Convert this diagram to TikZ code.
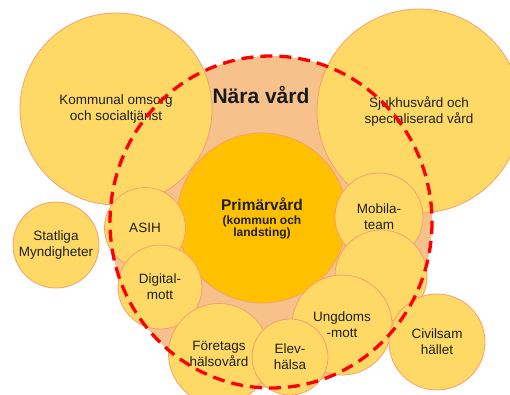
\documentclass[tikz,border=0pt]{standalone}
\usepackage{fontspec}
\setmainfont{Liberation Sans}

\definecolor{gulfyll}{HTML}{FFD966}
\definecolor{gulkant}{HTML}{F4A06E}
\definecolor{naravard}{HTML}{F6C18A}
\definecolor{primarfyll}{HTML}{FFC000}
\definecolor{streck}{HTML}{FF0000}

\tikzset{
	bubble/.style={circle, draw=gulkant, fill=gulfyll, line width=0.8pt,
		inner sep=0pt, minimum size=#1, align=center, text=black!88,
		font=\fontsize{13.5}{16}\selectfont},
	gransen/.style={draw=streck, line width=3.3pt, dash pattern=on 12pt off 7pt}
}

\begin{document}
\begin{tikzpicture}[x=1pt, y=-1pt]
	\clip (0,0) rectangle (510,394);

	% Background:
	\coordinate (mitt) at (271,222);
	\fill[naravard] (mitt) ellipse [x radius=161, y radius=166];

	% Circles:
	\node[bubble=192pt] (kommunal) at (116,109) {Kommunal omsorg\\och socialtjänst};
	\node[bubble=204pt] (sjukhus) at (419,111) {Sjukhusvård och\\specialiserad vård};
	\node[bubble=170pt, fill=primarfyll, font=\bfseries] (primar) at (262,218)
		{\fontsize{15.5}{17}\selectfont Primärvård\\[2pt]
		 \fontsize{12}{12.5}\selectfont (kommun och\\
		 \fontsize{12}{12.5}\selectfont landsting)};
	\node[bubble=86pt] (statliga) at (56,245) {Statliga\\Myndigheter};
	\node[bubble=81pt] (asih) at (145,228) {ASIH};
	\node[bubble=84pt] (digital) at (160,287) {Digital-\\mott};
	\node[bubble=88pt] (mobila) at (379,217) {Mobila-\\team};
	\node[bubble=92pt] (tom) at (381,276) {};
	\node[bubble=100pt] (ungdoms) at (342,325) {Ungdoms\\-mott};
	\node[bubble=101pt] (foretags) at (219,354) {Företags\\hälsovård};
	\node[bubble=76pt] (elev) at (290,357) {Elev-\\hälsa};
	\node[bubble=96pt] (civil) at (437,342) {Civilsam\\hället};

	% Labels
	\node[font=\bfseries\fontsize{21}{25}\selectfont, text=black!90] (nara) at (261,95) {Nära vård};

	% Dashed border:
	\draw[gransen] (mitt) ellipse [x radius=161, y radius=166];

\end{tikzpicture}
\end{document}
